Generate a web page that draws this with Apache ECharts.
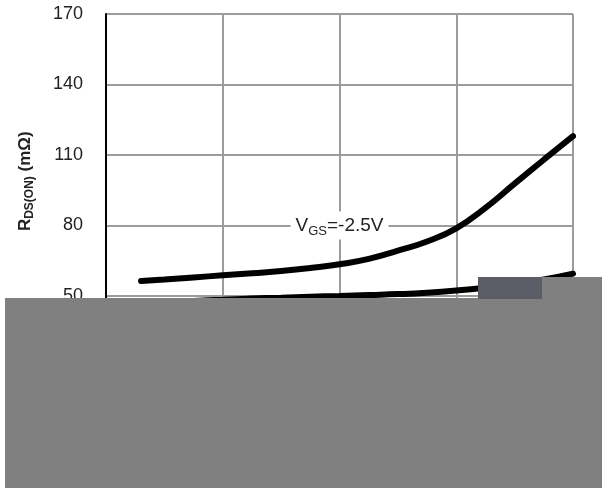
<!DOCTYPE html>
<html>
<head>
<meta charset="utf-8">
<script src="https://cdn.jsdelivr.net/npm/echarts@6/dist/echarts.min.js"></script>
<style>
html,body{margin:0;padding:0;background:#fff;}
#chart{width:602px;height:488px;}
</style>
</head>
<body>
<div id="chart"></div>
<script>
// Drain current (A) positions and on-resistance (mΩ)
const idVgs25 = [0.3, 0.5, 0.75, 1.0, 1.25, 1.5, 1.75, 2.0, 2.25, 2.5, 2.75, 3.0, 3.25, 3.5, 3.75, 4.0];
const rdsVgs25 = [56.4, 57.0, 57.9, 58.8, 59.7, 60.6, 61.9, 63.5, 65.8, 69.3, 73.2, 78.8, 87.5, 97.8, 108, 118];
const idVgs45 = [0.3, 0.5, 0.75, 1.0, 1.25, 1.5, 1.75, 2.0, 2.25, 2.5, 2.75, 3.0, 3.25, 3.5, 3.75, 4.0];
const rdsVgs45 = [46.8, 47.3, 47.9, 48.4, 48.9, 49.3, 49.7, 50.0, 50.4, 50.8, 51.4, 52.3, 53.5, 55.0, 57.0, 59.5];
const yTicks = [20, 50, 80, 110, 140, 170];
const curveLabel = {x: 2.0, y: 80};

const chart = echarts.init(document.getElementById('chart'), null, {renderer: 'canvas'});
const font = '"Liberation Sans", Arial, sans-serif';
const toPairs = (xs, ys) => xs.map((x, i) => [x, ys[i]]);

chart.setOption({
  animation: false,
  backgroundColor: '#ffffff',
  grid: {left: 106, right: 29, top: 14, bottom: 121.5, containLabel: false},
  xAxis: {
    type: 'value', min: 0, max: 4, interval: 1,
    axisLine: {show: true, lineStyle: {color: '#000', width: 2}},
    axisTick: {show: false},
    axisLabel: {fontFamily: font, fontSize: 18, color: '#222'},
    splitLine: {show: true, showMinLine: false, showMaxLine: true, lineStyle: {color: '#9c9c9c', width: 2}}
  },
  yAxis: {
    type: 'value', min: yTicks[0], max: yTicks[yTicks.length - 1], interval: 30,
    name: '{r|R}{s|DS(ON)}{r| (mΩ)}',
    nameLocation: 'middle', nameRotate: 90, nameGap: 70,
    nameTextStyle: {
      fontFamily: font, padding: [0, 0, 0, 18],
      rich: {
        r: {fontFamily: font, fontSize: 17, fontWeight: 'bold', color: '#222', lineHeight: 22, verticalAlign: 'middle'},
        s: {fontFamily: font, fontSize: 12, fontWeight: 'bold', color: '#222', lineHeight: 22, verticalAlign: 'bottom', padding: [9, 0, 0, 0]}
      }
    },
    axisLine: {show: true, onZero: false, lineStyle: {color: '#000', width: 2}},
    axisTick: {show: false},
    axisLabel: {fontFamily: font, fontSize: 18, color: '#222', margin: 23},
    splitLine: {show: true, showMinLine: false, showMaxLine: true, lineStyle: {color: '#9c9c9c', width: 2}}
  },
  series: [
    {
      type: 'line', name: 'VGS=-2.5V', smooth: true, symbol: 'none',
      data: toPairs(idVgs25, rdsVgs25),
      lineStyle: {color: '#000', width: 6, cap: 'round'},
      z: 5,
      markPoint: {
        symbol: 'rect', symbolSize: 1, itemStyle: {color: 'rgba(0,0,0,0)'},
        data: [{coord: [curveLabel.x, curveLabel.y]}],
        label: {
          show: true, position: 'inside',
          formatter: '{a|V}{b|GS}{a|=-2.5V}',
          backgroundColor: '#fff', padding: [2, 5, 2, 5],
          rich: {
            a: {fontFamily: font, fontSize: 19, color: '#222', lineHeight: 24, verticalAlign: 'middle'},
            b: {fontFamily: font, fontSize: 13, color: '#222', lineHeight: 24, verticalAlign: 'bottom', padding: [10, 0, 0, 0]}
          }
        }
      }
    },
    {
      type: 'line', name: 'VGS=-4.5V', smooth: true, symbol: 'none',
      data: toPairs(idVgs45, rdsVgs45),
      lineStyle: {color: '#000', width: 6, cap: 'round'},
      z: 5
    }
  ],
  graphic: [
    {type: 'rect', z: 100, shape: {x: 5, y: 298, width: 597, height: 190}, style: {fill: '#808080'}},
    {type: 'rect', z: 100, shape: {x: 542, y: 277, width: 60, height: 22}, style: {fill: '#808080'}},
    {type: 'rect', z: 100, shape: {x: 478, y: 277, width: 64, height: 22}, style: {fill: '#5c5c66'}}
  ]
});
</script>
</body>
</html>
